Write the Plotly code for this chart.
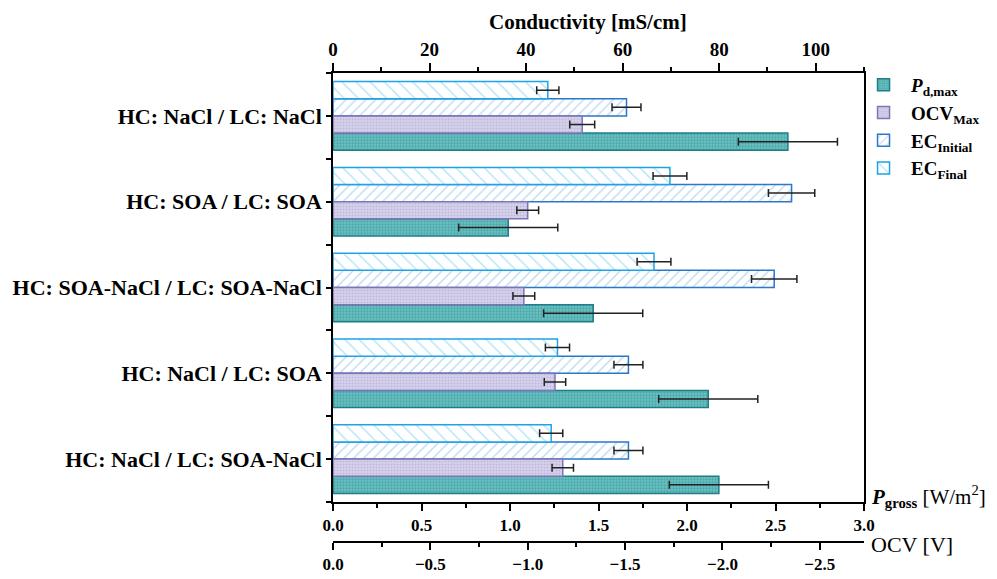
import plotly.graph_objects as go

categories = ["HC: NaCl / LC: NaCl", "HC: SOA / LC: SOA", "HC: SOA-NaCl / LC: SOA-NaCl",
              "HC: NaCl / LC: SOA", "HC: NaCl / LC: SOA-NaCl"]
pd_max = [2.57, 0.99, 1.47, 2.12, 2.18]
pd_err = [0.28, 0.28, 0.28, 0.28, 0.28]
ocv_max = [-1.28, -1.00, -0.98, -1.14, -1.18]
ocv_err = [0.064, 0.056, 0.056, 0.055, 0.055]
ec_initial = [60.8, 95.0, 91.4, 61.2, 61.2]
ec_initial_err = [3.0, 4.8, 4.7, 3.0, 3.0]
ec_final = [44.5, 69.8, 66.5, 46.5, 45.2]
ec_final_err = [2.3, 3.5, 3.5, 2.5, 2.4]

ypos = list(range(len(categories)))
SERIF = "Liberation Serif"
errstyle = dict(type="data", color="#222222", thickness=1.5, width=4)

fig = go.Figure()
fig.add_trace(go.Bar(
    y=ypos, x=pd_max, orientation="h", xaxis="x", yaxis="y", width=0.2, offset=0.2,
    name="<i>P</i><sub>d,max</sub>",
    marker=dict(color="#5bb7b9", line=dict(color="#1f7d86", width=1.5),
                pattern=dict(shape=".", fgcolor="#2a8a90", bgcolor="#6cc2c2", size=3, solidity=0.45)),
    error_x=dict(array=pd_err, **errstyle)))
fig.add_trace(go.Bar(
    y=ypos, x=ocv_max, orientation="h", xaxis="x3", yaxis="y", width=0.2, offset=0.0,
    name="OCV<sub>Max</sub>",
    marker=dict(color="#cfcbe6", line=dict(color="#7f74b8", width=1.5),
                pattern=dict(shape=".", fgcolor="#a69fd0", bgcolor="#d6d3ea", size=3, solidity=0.4)),
    error_x=dict(array=ocv_err, **errstyle)))
fig.add_trace(go.Bar(
    y=ypos, x=ec_initial, orientation="h", xaxis="x2", yaxis="y", width=0.2, offset=-0.2,
    name="EC<sub>Initial</sub>",
    marker=dict(color="white", line=dict(color="#2b78c8", width=1.5),
                pattern=dict(shape="/", fgcolor="#7fb6e6", bgcolor="white", size=7, solidity=0.2)),
    error_x=dict(array=ec_initial_err, **errstyle)))
fig.add_trace(go.Bar(
    y=ypos, x=ec_final, orientation="h", xaxis="x2", yaxis="y", width=0.2, offset=-0.4,
    name="EC<sub>Final</sub>",
    marker=dict(color="white", line=dict(color="#1ea3e8", width=1.5),
                pattern=dict(shape="\\", fgcolor="#6ccbf2", bgcolor="white", size=10, solidity=0.15)),
    error_x=dict(array=ec_final_err, **errstyle)))

common = dict(showgrid=False, zeroline=False, showline=True, linecolor="black", linewidth=1.5,
              tickcolor="black", tickwidth=1.5, automargin=False)

fig.update_layout(
    width=997, height=579,
    margin=dict(l=333, r=131, t=73, b=37),
    plot_bgcolor="white", paper_bgcolor="white",
    barmode="overlay",
    font=dict(family=SERIF, color="black"),
    xaxis=dict(domain=[0, 1], range=[0, 3], anchor="y", side="bottom", dtick=0.5, tickformat=".1f",
               ticks="outside", ticklen=7,
               minor=dict(dtick=0.25, ticks="outside", ticklen=4, tickcolor="black", tickwidth=1.5),
               tickfont=dict(family=SERIF, size=17, color="black", weight="bold"),
               **common),
    xaxis2=dict(overlaying="x", anchor="y", side="top", range=[0, 110], dtick=20,
                ticks="outside", ticklen=8,
                minor=dict(dtick=10, ticks="outside", ticklen=4, tickcolor="black", tickwidth=1.5),
                tickfont=dict(family=SERIF, size=19, color="black", weight="bold"),
                **common),
    xaxis3=dict(overlaying="x", anchor="free", position=0, side="bottom", range=[0, -2.727],
                dtick=0.5, tickformat=".1f", ticks="outside", ticklen=7,
                minor=dict(dtick=0.25, ticks="outside", ticklen=4, tickcolor="black", tickwidth=1.5),
                tickfont=dict(family=SERIF, size=17, color="black", weight="bold"),
                **common),
    yaxis=dict(domain=[0.0853, 1], range=[4.5, -0.5], tickvals=ypos, ticktext=categories,
               ticks="outside", ticklen=5, mirror=True,
               minor=dict(tick0=0.5, dtick=1, ticks="outside", ticklen=5, tickcolor="black", tickwidth=1.5),
               tickfont=dict(family=SERIF, size=22, color="black", weight="bold"),
               **common),
    legend=dict(x=0.985, xanchor="left", y=1.015, yanchor="top", borderwidth=0,
                traceorder="normal", font=dict(family=SERIF, size=19, color="black", weight="bold"),
                bgcolor="rgba(0,0,0,0)", tracegroupgap=0, itemwidth=45),
    annotations=[
        dict(text="<b>Conductivity [mS/cm]</b>", x=0.48, y=1.1087, xref="paper", yref="paper",
             xanchor="center", yanchor="middle", showarrow=False,
             font=dict(family=SERIF, size=21, color="black")),
        dict(text="<b><i>P</i><sub>gross</sub></b> [W/m<sup>2</sup>]", x=1.0, y=0.096, xref="paper",
             yref="paper", xanchor="left", yanchor="middle", xshift=5, showarrow=False,
             font=dict(family=SERIF, size=21, color="black")),
        dict(text="OCV [V]", x=1.0, y=0.0, xref="paper", yref="paper", xanchor="left",
             yanchor="middle", xshift=5, yshift=-2, showarrow=False,
             font=dict(family=SERIF, size=22, color="black")),
    ],
)

fig.write_html("out.html", config={"displayModeBar": False},
               post_script="document.body.style.margin='0';document.body.style.overflow='hidden';")
